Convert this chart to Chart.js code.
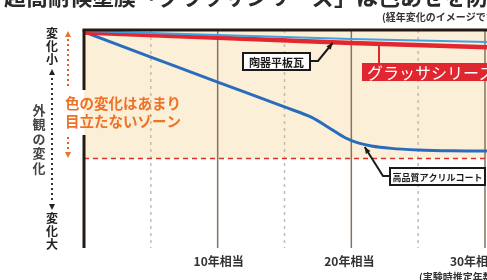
<!DOCTYPE html>
<html>
<head>
<meta charset="utf-8">
<script src="https://cdn.jsdelivr.net/npm/chart.js@4/dist/chart.umd.min.js"></script>
<style>
  html, body { margin: 0; padding: 0; background: #fff; }
  canvas { display: block; }
</style>
</head>
<body>
<canvas id="agingChart" width="487" height="280"></canvas>
<script>
// Data (x = years, y = amount of visible change, 0 = none)
const acrylicYears = [0, 5, 10, 15, 17, 18.5, 19.5, 20.5, 21.5, 23, 25, 27.5, 30.15];
const acrylicChange = [0.9, 12.4, 23.9, 35.3, 40, 45.5, 49.3, 51.8, 53.2, 54.3, 55, 55.4, 55.5];
const tileYears = [0, 10, 20, 30.15];
const tileChange = [0.5, 2.3, 4.1, 5.5];
const grassaYears = [0, 10, 20, 30.15];
const grassaChange = [1.2, 3.6, 6.0, 7.9];

const majorYears = [10, 20, 30];
const majorLabels = ['10年相当', '20年相当', '30年相当'];
const minorYears = [5, 15, 25];
const zoneLimit = 59; // bottom of the "not noticeable" zone

const FONT = '"Noto Sans CJK JP", "Noto Sans", sans-serif';

function toPoints(xs, ys) {
    return xs.map((x, i) => ({ x: x, y: ys[i] }));
}

function verticalText(ctx, text, x, y0, step, font, color) {
    ctx.save();
    ctx.font = font;
    ctx.fillStyle = color;
    ctx.textAlign = 'center';
    ctx.textBaseline = 'middle';
    [...text].forEach((ch, i) => ctx.fillText(ch, x, y0 + i * step));
    ctx.restore();
}

function triangle(ctx, x, y, size, up, color) {
    ctx.save();
    ctx.fillStyle = color;
    ctx.beginPath();
    if (up) {
        ctx.moveTo(x, y - size / 2);
        ctx.lineTo(x + size / 2, y + size / 2);
        ctx.lineTo(x - size / 2, y + size / 2);
    } else {
        ctx.moveTo(x, y + size / 2);
        ctx.lineTo(x + size / 2, y - size / 2);
        ctx.lineTo(x - size / 2, y - size / 2);
    }
    ctx.closePath();
    ctx.fill();
    ctx.restore();
}

function vline(ctx, x, y1, y2, color, width, dash) {
    ctx.save();
    ctx.strokeStyle = color;
    ctx.lineWidth = width;
    ctx.setLineDash(dash || []);
    ctx.beginPath();
    ctx.moveTo(x, y1);
    ctx.lineTo(x, y2);
    ctx.stroke();
    ctx.restore();
}

function labelBox(ctx, text, x, y, w, h, font) {
    ctx.save();
    ctx.fillStyle = '#fff';
    ctx.fillRect(x, y, w, h);
    ctx.strokeStyle = '#1a1a1a';
    ctx.lineWidth = 2;
    ctx.strokeRect(x, y, w, h);
    ctx.font = font;
    ctx.fillStyle = '#1a1a1a';
    ctx.textAlign = 'center';
    ctx.textBaseline = 'middle';
    ctx.fillText(text, x + w / 2, y + h / 2 + 1, w - 4);
    ctx.restore();
}

function leader(ctx, pts, color, width, arrow) {
    ctx.save();
    ctx.strokeStyle = color;
    ctx.fillStyle = color;
    ctx.lineWidth = width;
    ctx.beginPath();
    ctx.moveTo(pts[0][0], pts[0][1]);
    for (let i = 1; i < pts.length; i++) ctx.lineTo(pts[i][0], pts[i][1]);
    ctx.stroke();
    if (arrow) {
        const [x2, y2] = pts[pts.length - 1];
        const [x1, y1] = pts[pts.length - 2];
        const a = Math.atan2(y2 - y1, x2 - x1);
        ctx.beginPath();
        ctx.moveTo(x2, y2);
        ctx.lineTo(x2 - 7 * Math.cos(a - 0.4), y2 - 7 * Math.sin(a - 0.4));
        ctx.lineTo(x2 - 7 * Math.cos(a + 0.4), y2 - 7 * Math.sin(a + 0.4));
        ctx.closePath();
        ctx.fill();
    }
    ctx.restore();
}

const backdrop = {
    id: 'backdrop',
    beforeDatasetsDraw(chart) {
        const { ctx, chartArea: a, scales: { x, y } } = chart;
        const zoneY = y.getPixelForValue(zoneLimit);
        ctx.save();
        ctx.fillStyle = '#fcefd8';
        ctx.fillRect(a.left, a.top, a.right - a.left, zoneY - a.top);
        ctx.restore();

        minorYears.forEach(v => vline(ctx, x.getPixelForValue(v), a.top, a.bottom, '#c4bcb2', 1.5, [3, 4]));
        majorYears.forEach(v => vline(ctx, x.getPixelForValue(v), a.top, a.bottom, '#85725f', 1.5));

        ctx.save();
        ctx.strokeStyle = '#d8322a';
        ctx.lineWidth = 1.5;
        ctx.setLineDash([5, 4]);
        ctx.beginPath();
        ctx.moveTo(a.left, zoneY);
        ctx.lineTo(a.right, zoneY);
        ctx.stroke();
        ctx.restore();
    },
    afterDatasetsDraw(chart) {
        const { ctx, chartArea: a, scales: { x, y } } = chart;

        // frame: top line and broken left axis
        ctx.save();
        ctx.strokeStyle = '#231a15';
        ctx.lineWidth = 3;
        ctx.beginPath();
        ctx.moveTo(a.left - 1.5, a.top);
        ctx.lineTo(a.right, a.top);
        ctx.stroke();
        ctx.restore();
        vline(ctx, a.left, a.top, 90, '#231a15', 3);
        vline(ctx, a.left, 135, a.bottom, '#231a15', 3);

        // title (cut off at the top edge)
        ctx.save();
        ctx.font = 'bold 22px ' + FONT;
        ctx.fillStyle = '#2a2a2a';
        ctx.textAlign = 'right';
        ctx.textBaseline = 'alphabetic';
        ctx.fillText('超高耐候塗膜「グラッサシリーズ」は色あせを防', 488, 5);
        ctx.font = 'bold 10px ' + FONT;
        ctx.textAlign = 'left';
        ctx.textBaseline = 'middle';
        ctx.fillStyle = '#333';
        ctx.fillText('(経年変化のイメージです)', 382, 17);
        ctx.fillText('(実験時推定年数)', 419, 277);
        ctx.restore();

        // x labels
        ctx.save();
        ctx.font = 'bold 12px ' + FONT;
        ctx.fillStyle = '#333';
        ctx.textAlign = 'center';
        ctx.textBaseline = 'middle';
        const labelShift = [1, -2, -10];
        majorYears.forEach((v, i) => ctx.fillText(majorLabels[i], x.getPixelForValue(v) + labelShift[i], 261));
        ctx.restore();

        // left axis captions
        const bold12 = 'bold 12px ' + FONT;
        verticalText(ctx, '変化小', 52, 33, 13, bold12, '#222');
        verticalText(ctx, '変化大', 52, 218, 13, bold12, '#222');
        verticalText(ctx, '外観の変化', 39, 110, 14.5, 'bold 13px ' + FONT, '#444');
        triangle(ctx, 52, 72, 6, true, '#222');
        triangle(ctx, 52, 207, 6, false, '#222');
        vline(ctx, 52, 78, 202, '#333', 2, [2, 3]);

        // orange zone arrows and text
        const orange = '#ee7128';
        triangle(ctx, 68, 34, 6, true, orange);
        vline(ctx, 68, 39, 86, '#e25a2e', 2, [2, 3]);
        vline(ctx, 68, 137, 151, '#e25a2e', 2, [2, 3]);
        triangle(ctx, 68, 155, 6, false, orange);
        ctx.save();
        ctx.font = 'bold 14.5px ' + FONT;
        ctx.fillStyle = orange;
        ctx.textAlign = 'left';
        ctx.textBaseline = 'middle';
        ctx.fillText('色の変化はあまり', 65, 103);
        ctx.fillText('目立たないゾーン', 65, 121);
        ctx.restore();

        // callouts
        const tipX = x.getPixelForValue(18.6);
        leader(ctx, [[310, 61], [318, 61], [tipX, 43]], '#1a1a1a', 2, true);
        labelBox(ctx, '陶器平板瓦', 243, 53, 67, 17, 'bold 11px ' + FONT);

        vline(ctx, 379, 46, 64, '#e0262e', 2);
        ctx.save();
        ctx.fillStyle = '#e0262e';
        ctx.fillRect(362, 63, 130, 18);
        ctx.font = '16px ' + FONT;
        ctx.fillStyle = '#fff';
        ctx.textAlign = 'left';
        ctx.textBaseline = 'middle';
        ctx.fillText('グラッサシリーズ', 367, 72.5);
        ctx.restore();

        leader(ctx, [[390, 176], [383, 176], [x.getPixelForValue(21.0), 147]], '#1a1a1a', 2, true);
        labelBox(ctx, '高品質アクリルコート', 390, 168, 95, 17, 'bold 9px ' + FONT);
    }
};

new Chart(document.getElementById('agingChart'), {
    type: 'line',
    data: {
        datasets: [
            {
                label: '陶器平板瓦',
                data: toPoints(tileYears, tileChange),
                borderColor: '#3ea3e2',
                borderWidth: 2,
                order: 1
            },
            {
                label: 'グラッサシリーズ',
                data: toPoints(grassaYears, grassaChange),
                borderColor: '#e3262f',
                borderWidth: 4.5,
                order: 2
            },
            {
                label: '高品質アクリルコート',
                data: toPoints(acrylicYears, acrylicChange),
                borderColor: '#2a6cbc',
                borderWidth: 3,
                cubicInterpolationMode: 'monotone',
                order: 3
            }
        ]
    },
    options: {
        responsive: false,
        animation: false,
        layout: { padding: { left: 84, top: 30, right: 0, bottom: 32 } },
        elements: { point: { radius: 0 } },
        plugins: { legend: { display: false }, tooltip: { enabled: false } },
        scales: {
            x: { type: 'linear', min: 0, max: 30.15, display: false },
            y: { min: 0, max: 100, reverse: true, display: false }
        }
    },
    plugins: [backdrop]
});
</script>
</body>
</html>
